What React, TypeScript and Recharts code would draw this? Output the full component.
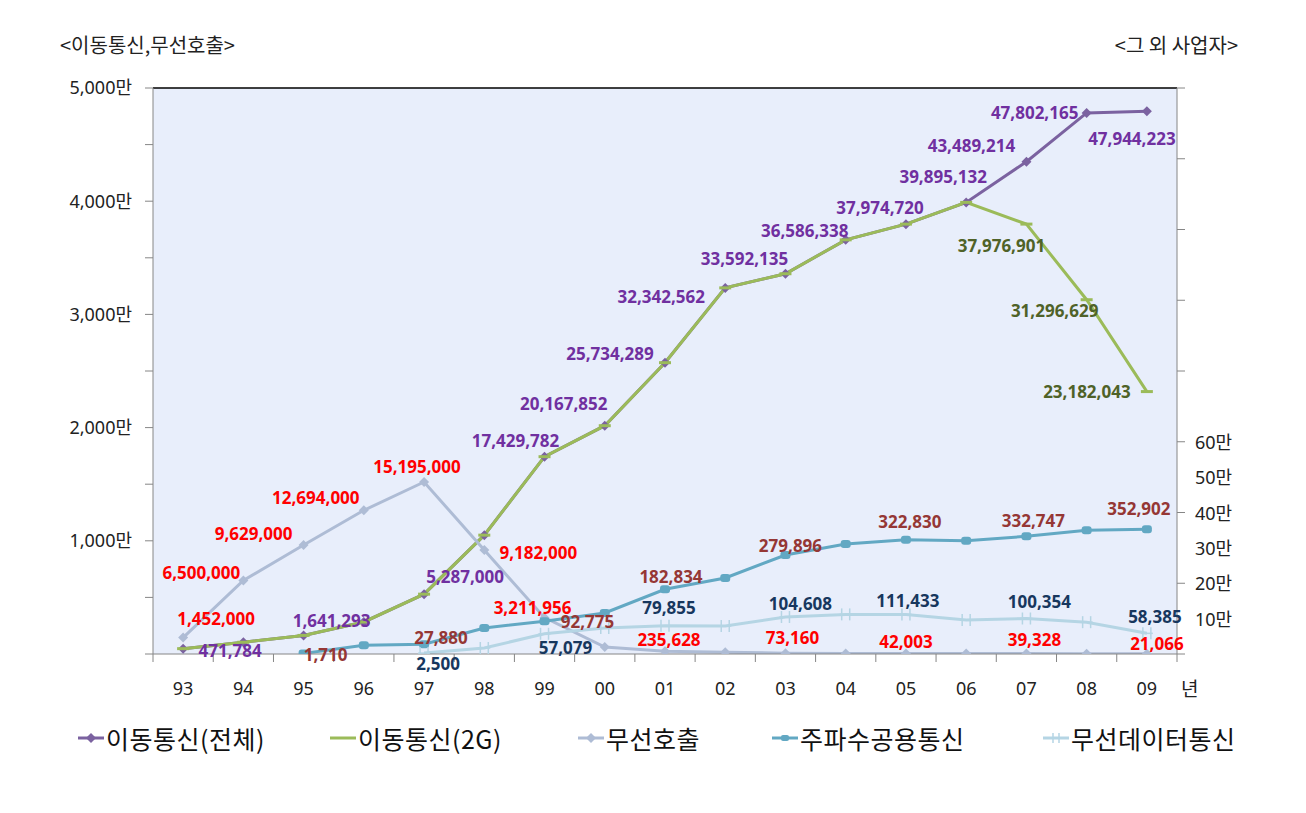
import {
  CartesianGrid,
  ComposedChart,
  LabelList,
  Line,
  ReferenceLine,
  XAxis,
  YAxis,
} from "recharts";

const YEARS = ["93", "94", "95", "96", "97", "98", "99", "00", "01", "02", "03", "04", "05", "06", "07", "08", "09"];

// left axis (persons)
const MOBILE_TOTAL = [471784, 1040000, 1641293, 2830000, 5287000, 10500000, 17429782, 20167852, 25734289, 32342562, 33592135, 36586338, 37974720, 39895132, 43489214, 47802165, 47944223];
const MOBILE_2G = [471784, 1040000, 1641293, 2830000, 5287000, 10500000, 17429782, 20167852, 25734289, 32342562, 33592135, 36586338, 37974720, 39895132, 37976901, 31296629, 23182043];
const PAGING = [1452000, 6500000, 9629000, 12694000, 15195000, 9182000, 3211956, 620000, 235628, 150000, 73160, 55000, 42003, 40000, 39328, 30000, 21066];

// right axis (other operators)
const TRS = [null, null, 1710, 25000, 27880, 73500, 92775, 116000, 182834, 215000, 279896, 311000, 322830, 320000, 332747, 350000, 352902];
const WIRELESS_DATA = [null, null, null, null, 2500, 17000, 57079, 73500, 79855, 79000, 104608, 112000, 111433, 96000, 100354, 90000, 58385];

const LEFT_TICKS = [0, 5e6, 10e6, 15e6, 20e6, 25e6, 30e6, 35e6, 40e6, 45e6, 50e6];
const RIGHT_TICKS = [0, 1e5, 2e5, 3e5, 4e5, 5e5, 6e5, 7e5, 8e5, 9e5, 10e5, 11e5, 12e5, 13e5, 14e5, 15e5, 16e5];

// label placement relative to each point [dx, dy]; null = no label
const TOTAL_LABEL_POS: ([number, number] | null)[] = [[47, 2], null, [28, -15], null, [41, -18], null, [-29, -16], [-41, -22], [-55, -9], [-64, 9], [-41, -15], [-41, -9], [-26, -17], [-23, -26], [-55, -16], [-52, 0], [-15, 27]];
const G2_LABEL_POS: ([number, number] | null)[] = [null, null, null, null, null, null, null, null, null, null, null, null, null, null, [-25, 21], [-32, 11], [-60, 0]];
const PAGING_LABEL_POS: ([number, number] | null)[] = [[33, -19], [-42, -8], [-50, -11], [-48, -13], [-7, -15], [54, 2], [-12, -10], null, [4, -12], null, [7, -16], null, [0, -12], null, [8, -14], null, [10, -10]];
const TRS_LABEL_POS: ([number, number] | null)[] = [null, null, [22, 1], null, [17, -7], null, [43, 0], null, [6, -13], null, [5, -9], null, [4, -18], null, [7, -16], null, [-8, -21]];
const DATA_LABEL_POS: ([number, number] | null)[] = [null, null, null, null, [14, 10], null, [21, 14], null, [4, -18], null, [15, -13], null, [2, -14], null, [13, -17], null, [8, -17]];

const data = YEARS.map((year, i) => ({
  year,
  total: MOBILE_TOTAL[i],
  g2: MOBILE_2G[i],
  paging: PAGING[i],
  trs: TRS[i],
  wdata: WIRELESS_DATA[i],
}));

const W = 1290;
const H = 790;
const PLOT_W = W - 145 - 100 - 21;
const STEP = PLOT_W / YEARS.length;
const AXIS = "#868686";
const NUM_FONT = "'Noto Sans', 'Noto Sans CJK KR', sans-serif";
const KR_FONT = "'Noto Sans CJK KR', 'Noto Sans', sans-serif";

const C_TOTAL = "#7B62A0";
const C_2G = "#9BBB59";
const C_PAGING = "#AEBCD5";
const C_TRS = "#62A8C3";
const C_DATA = "#B5D5E4";

function makeLabel(pos: ([number, number] | null)[], color: string) {
  return (props: any) => {
    const { x, y, value, index } = props;
    const p = pos[index];
    if (!p || value == null || x == null) return null;
    return (
      <text
        x={x + p[0]}
        y={y + p[1]}
        textAnchor="middle"
        dominantBaseline="central"
        fill={color}
        fontSize={17}
        fontWeight={700}
        fontFamily={NUM_FONT}
      >
        {Number(value).toLocaleString("en-US")}
      </text>
    );
  };
}

function diamond(color: string, s = 5) {
  return (props: any) => {
    const { cx, cy, index } = props;
    if (cx == null || cy == null || props.value == null) return <g key={index} />;
    return (
      <polygon
        key={index}
        points={`${cx},${cy - s} ${cx + s},${cy} ${cx},${cy + s} ${cx - s},${cy}`}
        fill={color}
      />
    );
  };
}

function dash(color: string) {
  return (props: any) => {
    const { cx, cy, index } = props;
    if (cx == null || cy == null || props.value == null) return <g key={index} />;
    return <line key={index} x1={cx - 6} x2={cx + 6} y1={cy} y2={cy} stroke={color} strokeWidth={3} />;
  };
}

function roundDot(color: string) {
  return (props: any) => {
    const { cx, cy, index } = props;
    if (cx == null || cy == null || props.value == null) return <g key={index} />;
    return <rect key={index} x={cx - 5} y={cy - 4} width={10} height={8} rx={3} fill={color} />;
  };
}

function star(color: string) {
  return (props: any) => {
    const { cx, cy, index } = props;
    if (cx == null || cy == null || props.value == null) return <g key={index} />;
    return (
      <g key={index} stroke={color} strokeWidth={1.5}>
        <line x1={cx - 4} x2={cx - 4} y1={cy - 6} y2={cy + 6} />
        <line x1={cx + 4} x2={cx + 4} y1={cy - 6} y2={cy + 6} />
        <line x1={cx - 6} x2={cx + 6} y1={cy} y2={cy} />
      </g>
    );
  };
}

const XTick = (props: any) => {
  const { x, y, payload } = props;
  const i = YEARS.indexOf(payload.value);
  const last = i === YEARS.length - 1;
  return (
    <g>
      <line x1={x - STEP / 2} x2={x - STEP / 2} y1={y} y2={y + 8} stroke={AXIS} />
      {last && <line x1={x + STEP / 2} x2={x + STEP / 2} y1={y} y2={y + 8} stroke={AXIS} />}
      <text x={x} y={y + 34} textAnchor="middle" dominantBaseline="central" fontSize={18} fill="#222" fontFamily={NUM_FONT}>
        {payload.value}
      </text>
      {last && (
        <text x={x + STEP / 2 + 4} y={y + 33} textAnchor="start" dominantBaseline="central" fontSize={19} fill="#222" fontFamily={KR_FONT}>
          년
        </text>
      )}
    </g>
  );
};

const RightTick = (props: any) => {
  const { x, y, payload } = props;
  const v = payload.value;
  const showLine = v % 200000 === 0;
  const showText = v >= 100000 && v <= 600000;
  return (
    <g>
      {showLine && <line x1={x} x2={x + 8} y1={y} y2={y} stroke={AXIS} />}
      {showText && (
        <text x={x + 18} y={y} textAnchor="start" dominantBaseline="central" fontSize={18} fill="#222" fontFamily={NUM_FONT}>
          {`${v / 10000}만`}
        </text>
      )}
    </g>
  );
};

const LEGEND = [
  { name: "이동통신(전체)", color: C_TOTAL, marker: "diamond", left: 70 },
  { name: "이동통신(2G)", color: C_2G, marker: "none", left: 322 },
  { name: "무선호출", color: C_PAGING, marker: "diamond", left: 570 },
  { name: "주파수공용통신", color: C_TRS, marker: "dot", left: 764 },
  { name: "무선데이터통신", color: C_DATA, marker: "star", left: 1035 },
];

function LegendMarker({ color, marker }: { color: string; marker: string }) {
  return (
    <svg width={26} height={14} style={{ display: "block" }}>
      <line x1={0} x2={26} y1={7} y2={7} stroke={color} strokeWidth={3} />
      {marker === "diamond" && <polygon points="13,2 18,7 13,12 8,7" fill={color} />}
      {marker === "dot" && <rect x={9} y={4} width={8} height={6} rx={2} fill={color} />}
      {marker === "star" && (
        <g stroke={color} strokeWidth={1.5}>
          <line x1={10} x2={10} y1={2} y2={12} />
          <line x1={16} x2={16} y1={2} y2={12} />
        </g>
      )}
    </svg>
  );
}

export default function App() {
  return (
    <div style={{ position: "relative", width: W, height: 797, background: "#fff" }}>
      <div style={{ position: "absolute", left: 52, top: 25, fontSize: 20, lineHeight: "24px", fontFamily: KR_FONT, color: "#222" }}>
        {"<이동통신,무선호출>"}
      </div>
      <div style={{ position: "absolute", right: 60, top: 25, fontSize: 20, lineHeight: "24px", fontFamily: KR_FONT, color: "#222" }}>
        {"<그 외 사업자>"}
      </div>

      <ComposedChart width={W} height={H} data={data} margin={{ top: 80, right: 21, left: 0, bottom: 104 }}>
        <CartesianGrid horizontal={false} vertical={false} fill="#E8EEFB" yAxisId="left" />
        <XAxis
          dataKey="year"
          interval={0}
          tickLine={false}
          tickSize={0}
          tickMargin={0}
          height={40}
          stroke={AXIS}
          padding={{ left: STEP / 2, right: STEP / 2 }}
          tick={<XTick />}
        />
        <YAxis
          yAxisId="left"
          width={145}
          domain={[0, 50000000]}
          ticks={LEFT_TICKS}
          interval={0}
          allowDataOverflow
          stroke={AXIS}
          tickSize={8}
          tickMargin={13}
          tick={{ fontSize: 18, fill: "#222", fontFamily: NUM_FONT }}
          tickFormatter={(v: number) => (v > 0 && v % 10000000 === 0 ? `${(v / 10000).toLocaleString("en-US")}만` : "")}
        />
        <YAxis
          yAxisId="right"
          orientation="right"
          width={100}
          domain={[0, 1600000]}
          ticks={RIGHT_TICKS}
          interval={0}
          allowDataOverflow
          stroke={AXIS}
          tickLine={false}
          tickSize={0}
          tickMargin={0}
          tick={<RightTick />}
        />
        <ReferenceLine yAxisId="left" y={50000000} stroke="#000" strokeWidth={1.5} />

        <Line yAxisId="left" dataKey="total" stroke={C_TOTAL} strokeWidth={3} dot={diamond(C_TOTAL)} isAnimationActive={false}>
          <LabelList dataKey="total" content={makeLabel(TOTAL_LABEL_POS, "#7030A0")} />
        </Line>
        <Line yAxisId="left" dataKey="g2" stroke={C_2G} strokeWidth={3} dot={dash(C_2G)} isAnimationActive={false}>
          <LabelList dataKey="g2" content={makeLabel(G2_LABEL_POS, "#4F6228")} />
        </Line>
        <Line yAxisId="left" dataKey="paging" stroke={C_PAGING} strokeWidth={3} dot={diamond(C_PAGING)} isAnimationActive={false}>
          <LabelList dataKey="paging" content={makeLabel(PAGING_LABEL_POS, "#FF0000")} />
        </Line>
        <Line yAxisId="right" dataKey="trs" stroke={C_TRS} strokeWidth={3} dot={roundDot(C_TRS)} isAnimationActive={false}>
          <LabelList dataKey="trs" content={makeLabel(TRS_LABEL_POS, "#953735")} />
        </Line>
        <Line yAxisId="right" dataKey="wdata" stroke={C_DATA} strokeWidth={3} dot={star(C_DATA)} isAnimationActive={false}>
          <LabelList dataKey="wdata" content={makeLabel(DATA_LABEL_POS, "#17375E")} />
        </Line>
      </ComposedChart>

      {LEGEND.map((item) => (
        <div
          key={item.name}
          style={{ position: "absolute", left: item.left, top: 714, height: 32, display: "flex", alignItems: "center", gap: 2 }}
        >
          <LegendMarker color={item.color} marker={item.marker} />
          <span style={{ fontSize: 25, letterSpacing: 0.5, fontFamily: KR_FONT, color: "#111", whiteSpace: "nowrap" }}>{item.name}</span>
        </div>
      ))}
    </div>
  );
}
